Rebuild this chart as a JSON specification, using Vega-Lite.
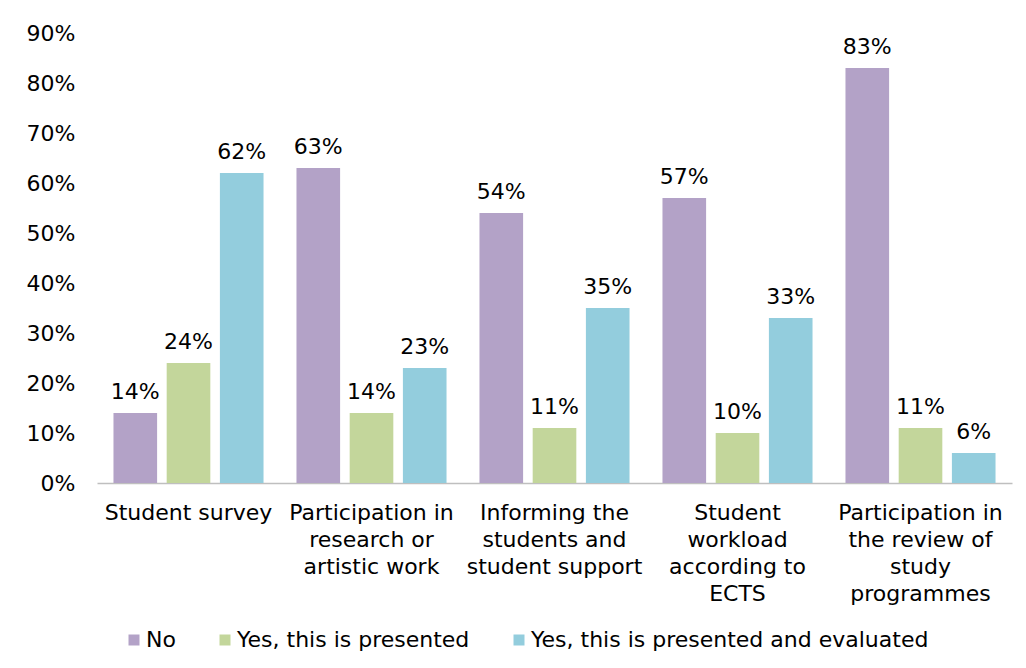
{
  "$schema": "https://vega.github.io/schema/vega-lite/v6.json",
  "width": 915,
  "height": 450,
  "autosize": {"type": "none"},
  "padding": {"left": 97, "top": 33, "right": 14, "bottom": 185},
  "background": "white",
  "config": {
    "view": {"stroke": null},
    "font": "DejaVu Sans",
    "axis": {"labelFont": "DejaVu Sans", "labelFontSize": 22, "labelColor": "#000000"},
    "legend": {"labelFont": "DejaVu Sans", "labelFontSize": 22, "labelColor": "#000000"}
  },
  "data": {
    "values": [
      {"category": "Student survey", "series": "No", "value": 0.14},
      {"category": "Student survey", "series": "Yes, this is presented", "value": 0.24},
      {"category": "Student survey", "series": "Yes, this is presented and evaluated", "value": 0.62},
      {"category": "Participation in research or artistic work", "series": "No", "value": 0.63},
      {"category": "Participation in research or artistic work", "series": "Yes, this is presented", "value": 0.14},
      {"category": "Participation in research or artistic work", "series": "Yes, this is presented and evaluated", "value": 0.23},
      {"category": "Informing the students and student support", "series": "No", "value": 0.54},
      {"category": "Informing the students and student support", "series": "Yes, this is presented", "value": 0.11},
      {"category": "Informing the students and student support", "series": "Yes, this is presented and evaluated", "value": 0.35},
      {"category": "Student workload according to ECTS", "series": "No", "value": 0.57},
      {"category": "Student workload according to ECTS", "series": "Yes, this is presented", "value": 0.10},
      {"category": "Student workload according to ECTS", "series": "Yes, this is presented and evaluated", "value": 0.33},
      {"category": "Participation in the review of study programmes", "series": "No", "value": 0.83},
      {"category": "Participation in the review of study programmes", "series": "Yes, this is presented", "value": 0.11},
      {"category": "Participation in the review of study programmes", "series": "Yes, this is presented and evaluated", "value": 0.06}
    ]
  },
  "encoding": {
    "x": {
      "field": "category",
      "type": "nominal",
      "sort": null,
      "scale": {"paddingInner": 0.18, "paddingOuter": 0.09},
      "axis": {
        "title": null,
        "labelAngle": 0,
        "ticks": false,
        "domainColor": "#BFBFBF",
        "domainWidth": 1.5,
        "labelPadding": 19,
        "labelBaseline": "top",
        "labelLineHeight": 27,
        "labelLimit": 400,
        "labelExpr": "datum.value == 'Participation in research or artistic work' ? ['Participation in', 'research or', 'artistic work'] : datum.value == 'Informing the students and student support' ? ['Informing the', 'students and', 'student support'] : datum.value == 'Student workload according to ECTS' ? ['Student', 'workload', 'according to', 'ECTS'] : datum.value == 'Participation in the review of study programmes' ? ['Participation in', 'the review of', 'study', 'programmes'] : datum.value"
      }
    },
    "xOffset": {
      "field": "series",
      "type": "nominal",
      "sort": ["No", "Yes, this is presented", "Yes, this is presented and evaluated"],
      "scale": {"paddingInner": 0.18, "paddingOuter": 0}
    },
    "y": {
      "field": "value",
      "type": "quantitative",
      "scale": {"domain": [0, 0.9], "nice": false},
      "axis": {
        "title": null,
        "values": [0, 0.1, 0.2, 0.3, 0.4, 0.5, 0.6, 0.7, 0.8, 0.9],
        "format": ".0%",
        "grid": false,
        "domain": false,
        "ticks": false,
        "labelPadding": 22
      }
    }
  },
  "layer": [
    {
      "mark": {"type": "bar"},
      "encoding": {
        "color": {
          "field": "series",
          "type": "nominal",
          "scale": {
            "domain": ["No", "Yes, this is presented", "Yes, this is presented and evaluated"],
            "range": ["#B3A2C7", "#C3D69B", "#93CDDD"]
          },
          "legend": {
            "title": null,
            "orient": "none",
            "direction": "horizontal",
            "legendX": 26,
            "legendY": 596,
            "padding": 0,
            "symbolType": "square",
            "symbolSize": 121,
            "symbolStrokeWidth": 0,
            "symbolOpacity": 1,
            "labelOffset": 1,
            "columnPadding": 38,
            "labelLimit": 500
          }
        }
      }
    },
    {
      "mark": {"type": "text", "baseline": "bottom", "dy": -9, "fontSize": 22, "color": "#000000"},
      "encoding": {
        "text": {"field": "value", "type": "quantitative", "format": ".0%"}
      }
    }
  ]
}
